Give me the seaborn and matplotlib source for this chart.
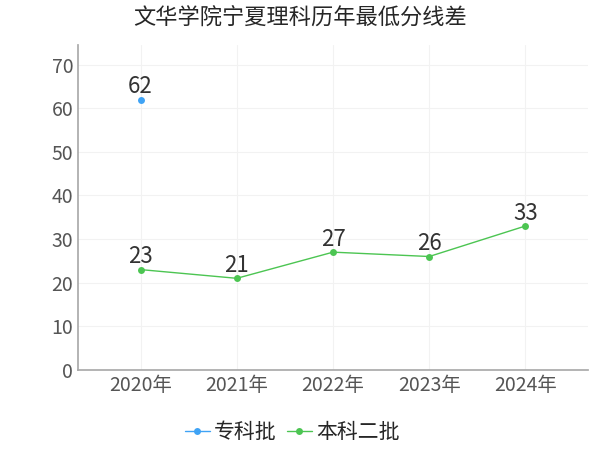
import matplotlib
matplotlib.use("Agg")
import matplotlib.pyplot as plt
import seaborn as sns
import pandas as pd

years = ["2020年", "2021年", "2022年", "2023年", "2024年"]
zhuanke = [62, None, None, None, None]
benke2 = [23, 21, 27, 26, 33]

sns.set_theme(style="white")
plt.rcParams['font.family'] = ['Noto Sans CJK SC', 'DejaVu Sans']

fig = plt.figure(figsize=(6, 4.5), dpi=100)
ax = fig.add_axes([0.13, 0.178, 0.85, 0.722])

x = list(range(len(years)))
df1 = pd.DataFrame({"x": x, "y": zhuanke}).dropna()
df2 = pd.DataFrame({"x": x, "y": benke2})
c1, c2 = "#3fa3f5", "#4cc552"
sns.lineplot(data=df1, x="x", y="y", ax=ax, color=c1, marker="o", markersize=5,
             markeredgewidth=0, linewidth=1, label="专科批")
sns.lineplot(data=df2, x="x", y="y", ax=ax, color=c2, marker="o", markersize=5,
             markeredgewidth=0, linewidth=1, label="本科二批")
for xi, v in zip(df1.x, df1.y):
    ax.text(xi, v + 0.3, f"{int(v)}", ha="center", va="bottom", fontsize=16, color="#333333")
for xi, v in zip(df2.x, df2.y):
    ax.text(xi, v + 0.3, f"{int(v)}", ha="center", va="bottom", fontsize=16, color="#333333")

ax.set_xlim(-0.65, 4.65)
ax.set_ylim(0, 74.5)
ax.set_xticks(x)
ax.set_xticklabels(years)
ax.set_yticks(range(0, 71, 10))
ax.tick_params(labelsize=14, colors="#555555", length=0)
ax.set_xlabel("")
ax.set_ylabel("")
ax.grid(True, color="#f2f2f2", linewidth=0.8)
for s in ["top", "right"]:
    ax.spines[s].set_visible(False)
for s in ["left", "bottom"]:
    ax.spines[s].set_color("#aaaaaa")
ax.legend(loc="upper center", bbox_to_anchor=(0.42, -0.1), ncol=2, frameon=False,
          fontsize=15, handlelength=1.2, columnspacing=0.5, handletextpad=0.2)
fig.suptitle("文华学院宁夏理科历年最低分线差", fontsize=16, x=0.5, y=0.985)
fig.savefig("out.png", dpi=100)
